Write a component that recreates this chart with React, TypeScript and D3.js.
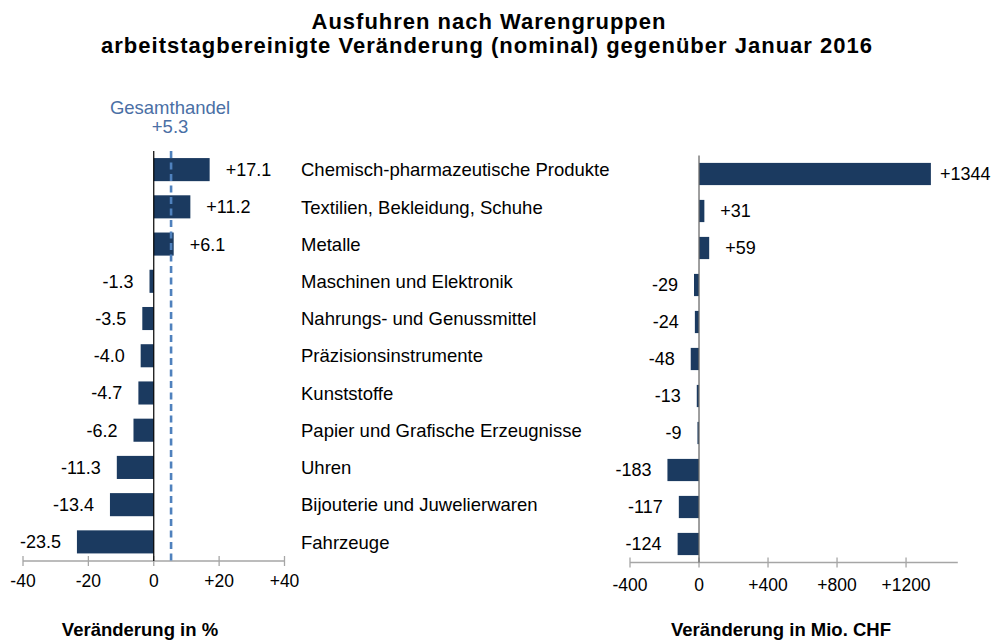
import React from "react";
import * as d3 from "d3";

const categories = [
  "Chemisch-pharmazeutische Produkte",
  "Textilien, Bekleidung, Schuhe",
  "Metalle",
  "Maschinen und Elektronik",
  "Nahrungs- und Genussmittel",
  "Präzisionsinstrumente",
  "Kunststoffe",
  "Papier und Grafische Erzeugnisse",
  "Uhren",
  "Bijouterie und Juwelierwaren",
  "Fahrzeuge",
];
const pctValues = [17.1, 11.2, 6.1, -1.3, -3.5, -4.0, -4.7, -6.2, -11.3, -13.4, -23.5];
const chfValues = [1344, 31, 59, -29, -24, -48, -13, -9, -183, -117, -124];
const pctTicks = [-40, -20, 0, 20, 40];
const chfTicks = [-400, 0, 400, 800, 1200];
const totalPct = 5.3;

const W = 995;
const H = 640;
const FONT = "Arial, 'Liberation Sans', Helvetica, sans-serif";
const BAR = "#1b3a60";

const fmtPct = (v: number) => (v > 0 ? "+" : "") + v.toFixed(1);
const fmtInt = (v: number) => (v > 0 ? "+" : "") + String(v);
const fmtTick = (v: number) => (v > 0 ? "+" : "") + String(v);

export default function App() {
  const yL = d3
    .scaleBand<string>()
    .domain(categories)
    .range([151, 560.5])
    .paddingInner(0.38)
    .paddingOuter(0.19);
  const yR = d3
    .scaleBand<string>()
    .domain(categories)
    .range([155.5, 562.5])
    .paddingInner(0.4)
    .paddingOuter(0.2);

  const xL = d3.scaleLinear().domain([-40, 40]).range([23, 284.5]);
  const xR = d3.scaleLinear().domain([-400, 1500]).range([630, 957.8]);
  const axisYL = 561;
  const axisYR = 562.5;
  const valSize = 18;
  const tickSize = 17.5;
  const catSize = 18.5;

  return (
    <svg width={W} height={H} style={{ position: "absolute", left: 0, top: 0, background: "#fff" }} fontFamily={FONT}>
      {/* Title */}
      <text x={489} y={28.5} textAnchor="middle" fontSize={22} fontWeight="bold" letterSpacing={1} fill="#000">
        Ausfuhren nach Warengruppen
      </text>
      <text x={487} y={53} textAnchor="middle" fontSize={22} fontWeight="bold" letterSpacing={1} fill="#000">
        arbeitstagbereinigte Veränderung (nominal) gegenüber Januar 2016
      </text>

      {/* Left panel bars */}
      {categories.map((c, i) => {
        const v = pctValues[i];
        const x0 = xL(Math.min(0, v));
        const x1 = xL(Math.max(0, v));
        const yy = yL(c)!;
        const cy = yy + yL.bandwidth() / 2;
        return (
          <g key={"l" + c}>
            <rect x={x0} y={yy} width={x1 - x0} height={yL.bandwidth()} fill={BAR} />
            <text
              x={v >= 0 ? x1 + 16 : x0 - 16}
              y={cy}
              dy="0.36em"
              textAnchor={v >= 0 ? "start" : "end"}
              fontSize={valSize}
              fill="#000"
            >
              {fmtPct(v)}
            </text>
          </g>
        );
      })}

      {/* Left axis */}
      <line x1={xL(-40)} x2={xL(40)} y1={axisYL} y2={axisYL} stroke="#a6a6a6" strokeWidth={1.3} />
      {pctTicks.map((t) => (
        <g key={"lt" + t}>
          <line x1={xL(t)} x2={xL(t)} y1={axisYL - 5} y2={axisYL + 5} stroke="#a6a6a6" strokeWidth={1.3} />
          <text x={xL(t)} y={587} textAnchor="middle" fontSize={tickSize} fill="#000">
            {fmtTick(t)}
          </text>
        </g>
      ))}
      <line x1={xL(0)} x2={xL(0)} y1={151} y2={axisYL} stroke="#000" strokeWidth={1.2} />

      {/* Gesamthandel dashed line */}
      <line
        x1={xL(totalPct)}
        x2={xL(totalPct)}
        y1={151}
        y2={axisYL}
        stroke="#4f81bd"
        strokeWidth={2.6}
        strokeDasharray="7,4.5"
      />
      <text x={xL(totalPct) - 1} y={113.5} textAnchor="middle" fontSize={catSize} fill="#4a6fa5">
        Gesamthandel
      </text>
      <text x={xL(totalPct) - 1} y={133} textAnchor="middle" fontSize={catSize} fill="#4a6fa5">
        {fmtPct(totalPct)}
      </text>

      {/* Category labels */}
      {categories.map((c) => (
        <text key={"c" + c} x={301} y={yL(c)! + yL.bandwidth() / 2} dy="0.36em" fontSize={catSize} fill="#000">
          {c}
        </text>
      ))}

      {/* Right panel bars */}
      {categories.map((c, i) => {
        const v = chfValues[i];
        const x0 = xR(Math.min(0, v));
        const x1 = xR(Math.max(0, v));
        const yy = yR(c)!;
        const cy = yy + yR.bandwidth() / 2;
        const lx = v >= 0 ? Math.min(x1 + 16, W - 55) : x0 - 16;
        return (
          <g key={"r" + c}>
            <rect x={x0} y={yy} width={Math.max(1, x1 - x0)} height={yR.bandwidth()} fill={BAR} />
            <text
              x={lx}
              y={cy}
              dy="0.36em"
              textAnchor={v >= 0 ? "start" : "end"}
              fontSize={valSize}
              fill="#000"
            >
              {fmtInt(v)}
            </text>
          </g>
        );
      })}

      {/* Right axis */}
      <line x1={xR(-400)} x2={xR(1500)} y1={axisYR} y2={axisYR} stroke="#a6a6a6" strokeWidth={1.3} />
      {chfTicks.map((t) => (
        <g key={"rt" + t}>
          <line x1={xR(t)} x2={xR(t)} y1={axisYR - 5} y2={axisYR + 5} stroke="#a6a6a6" strokeWidth={1.3} />
          <text x={xR(t)} y={590.5} textAnchor="middle" fontSize={tickSize} fill="#000">
            {fmtTick(t)}
          </text>
        </g>
      ))}
      <line x1={xR(0)} x2={xR(0)} y1={155.5} y2={axisYR} stroke="#6b6b6b" strokeWidth={1.3} />

      {/* Axis titles */}
      <text x={140} y={636} textAnchor="middle" fontSize={18.5} fontWeight="bold" fill="#000">
        Veränderung in %
      </text>
      <text x={781} y={636} textAnchor="middle" fontSize={18.5} fontWeight="bold" fill="#000">
        Veränderung in Mio. CHF
      </text>
    </svg>
  );
}
